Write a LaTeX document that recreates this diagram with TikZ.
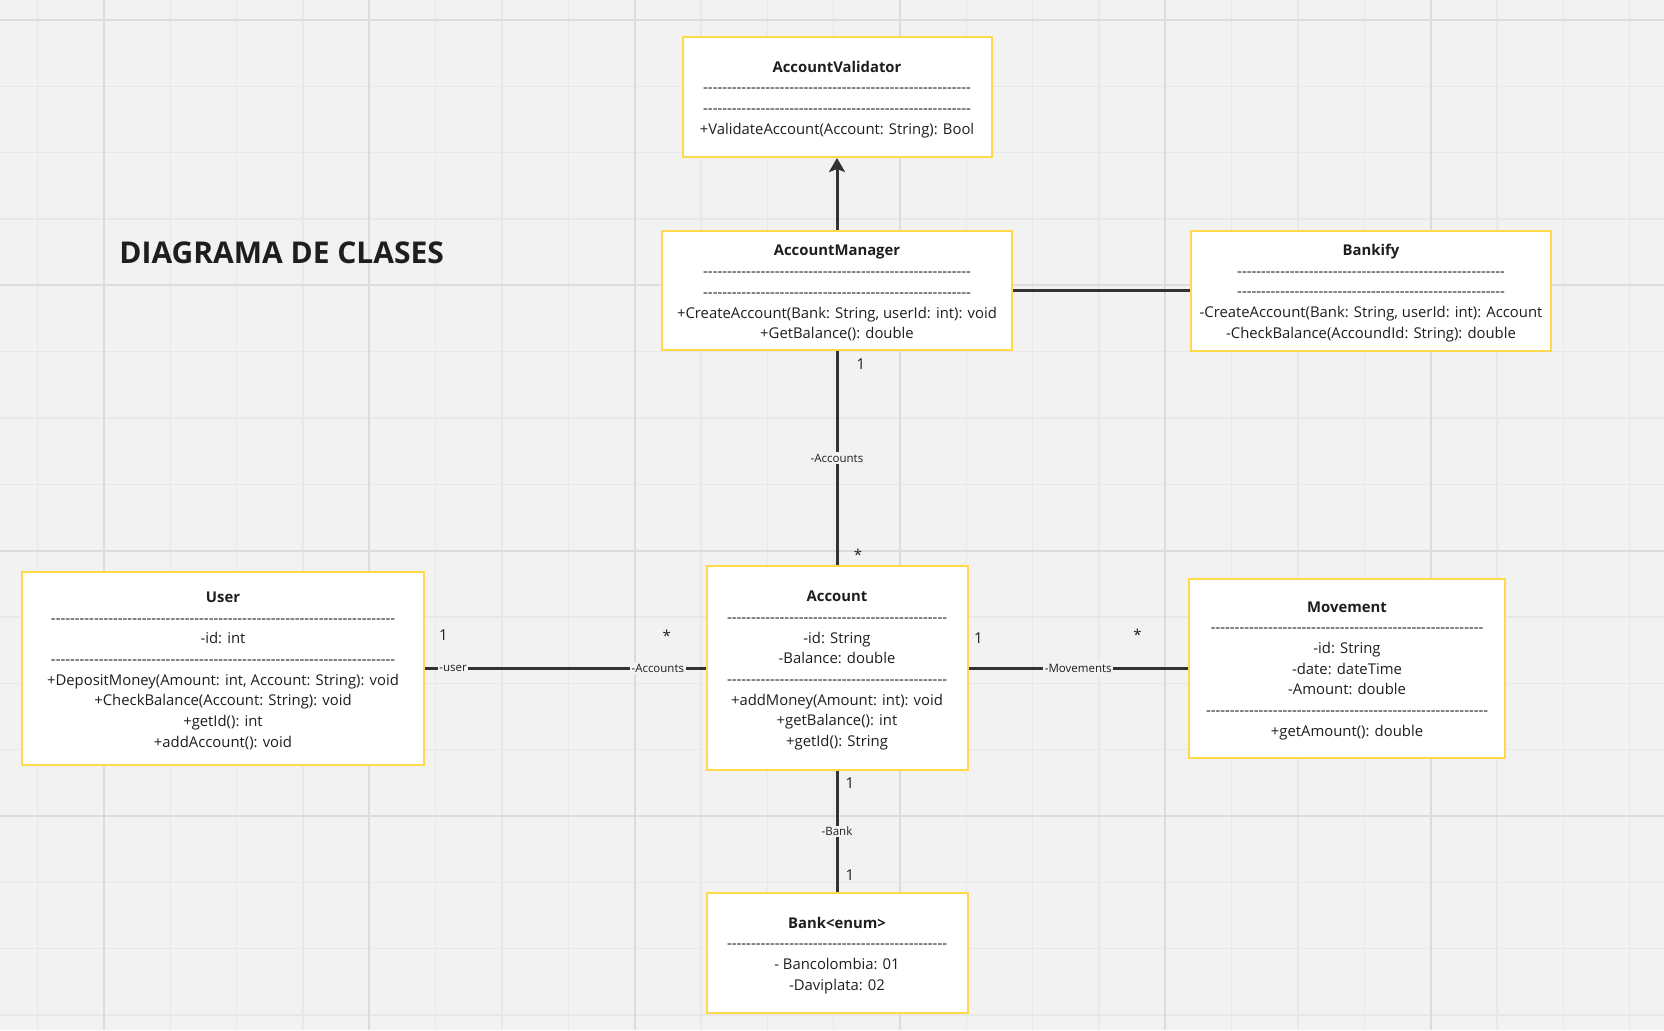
\documentclass[tikz,border=0pt]{standalone}
\usepackage{fontspec}
\setmainfont{Open Sans}[Ligatures=TeXOff]
\usetikzlibrary{arrows.meta}

\definecolor{fondo}{HTML}{F2F2F2}
\definecolor{rejilla}{HTML}{E8E8E8}
\definecolor{amarillo}{HTML}{FFD94A}
\definecolor{oscuro}{HTML}{333333}
\definecolor{texto}{HTML}{1E1E1E}

\newcommand\guiones[1]{\foreach\n in {1,...,#1}{-}}
\newcommand\nombre[1]{\rule{0pt}{16pt}\textbf{#1}}

\begin{document}
\begin{tikzpicture}[x=1pt, y=-1pt]
	\tikzset{clase/.style={draw=amarillo, fill=white, line width=2pt, inner sep=0pt, align=center,
			font=\fontsize{14.85}{20.7}\selectfont, text=texto},
		linea/.style={draw=oscuro, line width=3pt},
		flecha/.style={-{Stealth[length=14pt, width=16pt, inset=3pt]}},
		etiqueta/.style={fill=fondo, inner sep=1.5pt, font=\fontsize{11.5}{13}\selectfont, text=texto},
		mult/.style={inner sep=0pt, font=\fontsize{15}{18}\selectfont, text=texto}};

	% fondo y rejilla
	\fill[fondo] (0,0) rectangle (1664,1030);
	\useasboundingbox (0,0) rectangle (1664,1030);
	\foreach \x in {0,...,24}
		\draw[rejilla, line width=1.2pt] (37.7+66.33*\x,0) -- ++(0,1030);
	\foreach \y in {0,...,15}
		\draw[rejilla, line width=1.2pt] (0,20+66.33*\y) -- ++(1664,0);
	\foreach \x in {0,...,5}
		\draw[rejilla!95!black, line width=2pt] (104+265.3*\x,0) -- ++(0,1030);
	\foreach \y in {0,...,3}
		\draw[rejilla!95!black, line width=2pt] (0,20+265.3*\y) -- ++(1664,0);

	\node[text=texto, font=\fontsize{30}{36}\selectfont\bfseries] (titulo) at (281.7,253) {DIAGRAMA DE CLASES};

	% clases
	\node[clase, minimum width=309pt, minimum height=120pt] (validador) at (837,97)
		{\nombre{AccountValidator}\\\guiones{56}\\\guiones{56}\\+ValidateAccount(Account: String): Bool};
	\node[clase, minimum width=350pt, minimum height=119pt] (gestor) at (837,290.5)
		{\nombre{AccountManager}\\\guiones{56}\\\guiones{56}\\+CreateAccount(Bank: String, userId: int): void\\+GetBalance(): double};
	\node[clase, minimum width=360pt, minimum height=120pt] (bankify) at (1371,290.5)
		{\nombre{Bankify}\\\guiones{56}\\\guiones{56}\\-CreateAccount(Bank: String, userId: int): Account\\-CheckBalance(AccoundId: String): double};
	\node[clase, minimum width=402pt, minimum height=193pt] (usuario) at (223,668)
		{\nombre{User}\\\guiones{72}\\-id: int\\\guiones{72}\\+DepositMoney(Amount: int, Account: String): void\\+CheckBalance(Account: String): void\\+getId(): int\\+addAccount(): void};
	\node[clase, minimum width=261pt, minimum height=204pt] (cuenta) at (837,668)
		{\nombre{Account}\\\guiones{46}\\-id: String\\-Balance: double\\\guiones{46}\\+addMoney(Amount: int): void\\+getBalance(): int\\+getId(): String};
	\node[clase, minimum width=316pt, minimum height=179pt] (movimiento) at (1347,668)
		{\nombre{Movement}\\\guiones{57}\\-id: String\\-date: dateTime\\-Amount: double\\\guiones{59}\\+getAmount(): double};
	\node[clase, minimum width=261pt, minimum height=120pt] (banco) at (837,953)
		{\nombre{Bank<enum>}\\\guiones{46}\\- Bancolombia: 01\\-Daviplata: 02};

	% relaciones
	\draw[linea, flecha] (gestor) -- (validador);
	\draw[linea] (gestor) -- (bankify);
	\draw[linea] (gestor) -- node[etiqueta] (rol1) {-Accounts}
		node[mult, pos=0.06, xshift=24pt] (m1) {1}
		node[mult, pos=0.95, xshift=21pt] (m2) {*} (cuenta);
	\draw[linea] (usuario) -- node[etiqueta, pos=0.10] (rol2) {-user}
		node[etiqueta, pos=0.83] (rol3) {-Accounts}
		node[mult, pos=0.066, yshift=33pt] (m3) {1}
		node[mult, pos=0.862, yshift=32pt] (m4) {*} (cuenta);
	\draw[linea] (cuenta) -- node[etiqueta] (rol4) {-Movements}
		node[mult, pos=0.045, yshift=30pt] (m5) {1}
		node[mult, pos=0.77, yshift=33pt] (m6) {*} (movimiento);
	\draw[linea] (cuenta) -- node[etiqueta] (rol5) {-Bank}
		node[mult, pos=0.10, xshift=13pt] (m7) {1}
		node[mult, pos=0.86, xshift=13pt] (m8) {1} (banco);

\end{tikzpicture}
\end{document}
